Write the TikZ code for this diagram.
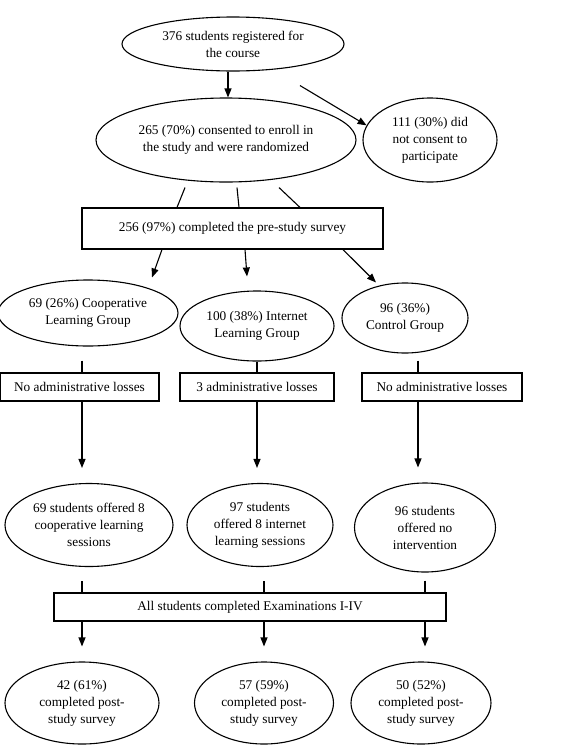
\documentclass[tikz,border=0pt]{standalone}
\usepackage{fontspec}
\setmainfont{Liberation Serif}
\usetikzlibrary{arrows.meta,shapes.geometric}

\tikzset{
  flowell/.style={draw,ellipse,inner sep=0pt,align=center},
  flowbox/.style={draw,rectangle,inner sep=0pt,align=center},
}

\begin{document}
\begin{tikzpicture}[x=1pt,y=-1pt,line width=1.1pt,>={Triangle[length=9pt,width=7pt]},
  font=\fontsize{13.3}{17}\selectfont]
\useasboundingbox (0,0) rectangle (580,750);
% ---------- enrolment ----------
\node[flowell,minimum width=222pt,minimum height=54pt] (reg) at (233,44) {376 students registered for\\the course};
\node[flowell,minimum width=260pt,minimum height=84pt] (cons) at (226,140) {265 (70\%) consented to enroll in\\the study and were randomized};
\node[flowell,minimum width=134pt,minimum height=84pt] (nocons) at (430,140) {111 (30\%) did\\not consent to\\participate};
\node[flowbox,minimum width=301pt,minimum height=41pt] (pre) at (232.5,228.5) {256 (97\%) completed the pre-study survey};
\draw[->] ([xshift=-5pt]reg.south) -- ([xshift=2pt]cons.north);
\draw[->] ([xshift=67pt,yshift=-14pt]reg.south) -- (nocons.167);
\draw ([xshift=-41pt,yshift=-5pt]cons.south) -- ([xshift=-55.5pt]pre.north);
\draw ([xshift=11pt,yshift=-5pt]cons.south) -- ([xshift=6.5pt]pre.north);
\draw ([xshift=53pt,yshift=-5pt]cons.south) -- ([xshift=67.5pt]pre.north);
% ---------- groups ----------
\node[flowell,minimum width=180pt,minimum height=66pt] (coop) at (88,313) {69 (26\%) Cooperative\\Learning Group};
\node[flowell,minimum width=154pt,minimum height=70pt] (inet) at (257,326) {100 (38\%) Internet\\Learning Group};
\node[flowell,minimum width=126pt,minimum height=70pt] (ctrl) at (405,318) {96 (36\%)\\Control Group};
\draw[->] ([xshift=-70.5pt]pre.south) -- ([xshift=64pt,yshift=2pt]coop.north);
\draw[->] ([xshift=12.5pt]pre.south) -- ([xshift=-10pt,yshift=14pt]inet.north);
\draw[->] ([xshift=110.5pt]pre.south) -- ([xshift=-29pt]ctrl.north);
% ---------- losses ----------
\node[flowbox,minimum width=159pt,minimum height=28pt] (lossA) at (79.5,387) {No administrative losses};
\node[flowbox,minimum width=154pt,minimum height=28pt] (lossB) at (257,387) {3 administrative losses};
\node[flowbox,minimum width=160pt,minimum height=28pt] (lossC) at (442,387) {No administrative losses};
\draw ([xshift=-6pt,yshift=-14pt]coop.south) -- ([xshift=2.5pt]lossA.north);
\draw (inet.south) -- (lossB.north);
\draw ([xshift=13pt,yshift=-7pt]ctrl.south) -- ([xshift=-24pt]lossC.north);
% ---------- interventions ----------
\node[flowell,minimum width=168pt,minimum height=83pt] (offA) at (89,525) {69 students offered 8\\cooperative learning\\sessions};
\node[flowell,minimum width=146pt,minimum height=83pt] (offB) at (260,525) {97 students\\offered 8 internet\\learning sessions};
\node[flowell,minimum width=141pt,minimum height=89pt] (offC) at (425,527.5) {96 students\\offered no\\intervention};
\draw[->] ([xshift=2.5pt]lossA.south) -- ([xshift=-7pt,yshift=15pt]offA.north);
\draw[->] (lossB.south) -- ([xshift=-3pt,yshift=15pt]offB.north);
\draw[->] ([xshift=-24pt]lossC.south) -- ([xshift=-7pt,yshift=15pt]offC.north);
% ---------- examinations and post-study survey ----------
\node[flowbox,minimum width=392pt,minimum height=28pt] (allex) at (250,607) {All students completed Examinations I-IV};
\draw ([xshift=-7pt,yshift=-14pt]offA.south) -- ([xshift=-168pt]allex.north);
\draw ([xshift=4pt,yshift=-14pt]offB.south) -- ([xshift=14pt]allex.north);
\draw ([yshift=-8pt]offC.south) -- ([xshift=175pt]allex.north);
\node[flowell,minimum width=154pt,minimum height=82pt] (postA) at (82,703) {42 (61\%)\\completed post-\\study survey};
\node[flowell,minimum width=139pt,minimum height=82pt] (postB) at (264,703) {57 (59\%)\\completed post-\\study survey};
\node[flowell,minimum width=140pt,minimum height=82pt] (postC) at (421,703) {50 (52\%)\\completed post-\\study survey};
\draw[->] ([xshift=-168pt]allex.south) -- ([yshift=15pt]postA.north);
\draw[->] ([xshift=14pt]allex.south) -- ([yshift=15pt]postB.north);
\draw[->] ([xshift=175pt]allex.south) -- ([xshift=4pt,yshift=15pt]postC.north);
\end{tikzpicture}
\end{document}
